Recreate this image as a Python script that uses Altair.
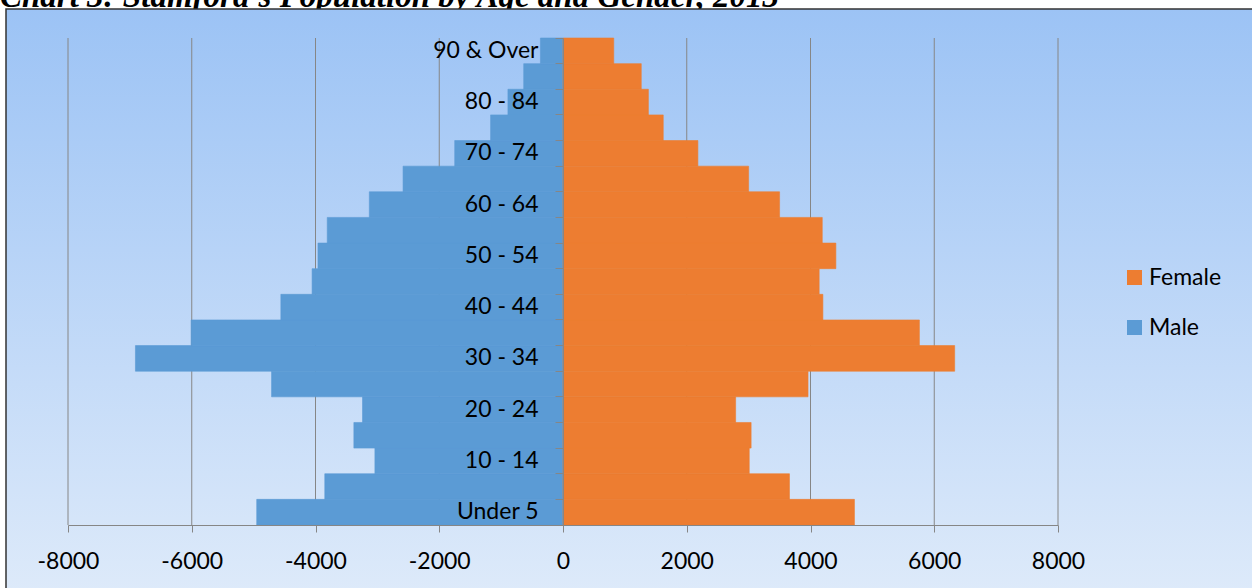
import json

import altair as alt
import pandas as pd

# Stamford population by five-year age group, 2013
AGE_GROUPS = [
    "Under 5", "5 - 9", "10 - 14", "15 - 19", "20 - 24", "25 - 29",
    "30 - 34", "35 - 39", "40 - 44", "45 - 49", "50 - 54", "55 - 59",
    "60 - 64", "65 - 69", "70 - 74", "75 - 79", "80 - 84", "85 - 89",
    "90 & Over",
]
MALE = [4950, 3850, 3040, 3380, 3240, 4710, 6910, 6010, 4560, 4055,
        3960, 3810, 3130, 2585, 1750, 1170, 890, 635, 365]
FEMALE = [4710, 3660, 3010, 3040, 2790, 3960, 6330, 5760, 4200, 4140,
          4410, 4190, 3500, 3000, 2180, 1620, 1380, 1265, 820]

GENDERS = ["Female", "Male"]
GENDER_COLORS = ["#ED7D31", "#5B9BD5"]
X_TICKS = [-8000, -6000, -4000, -2000, 0, 2000, 4000, 6000, 8000]
TITLE = "Chart 3: Stamford's Population by Age and Gender, 2013"

rows = []
for age, m, f in zip(AGE_GROUPS, MALE, FEMALE):
    rows.append({"age": age, "gender": "Male", "population": -m})
    rows.append({"age": age, "gender": "Female", "population": f})
pop = pd.DataFrame(rows)

# plot area and the margin around it
W, H = 990, 487
PAD = {"left": 68, "top": 38, "right": 194, "bottom": 63}

GRID = "#868686"
LABEL_FONT = "Lato"
LABEL_SIZE = 23

x_scale = alt.Scale(domain=[X_TICKS[0], X_TICKS[-1]], nice=False)
x_axis = alt.Axis(
    title=None, values=X_TICKS, grid=False, domainColor=GRID, domainWidth=1,
    tickColor=GRID, tickSize=7, labelFont=LABEL_FONT, labelFontSize=LABEL_SIZE,
    labelColor="black", labelPadding=18, labelFlush=False, labelOverlap=False,
    labelExpr="'' + datum.value", zindex=1,
)

shown = json.dumps(AGE_GROUPS[::2])
y_axis = alt.Axis(
    title=None, orient="left", offset=-W / 2, grid=False, domainColor=GRID,
    domainWidth=1, tickColor=GRID, tickSize=8, bandPosition=0,
    labelFont=LABEL_FONT, labelFontSize=LABEL_SIZE, labelColor="black",
    labelPadding=17, labelAlign="right", labelBaseline="middle",
    labelOverlap=False,
    labelExpr=f"indexof({shown}, datum.value) >= 0 ? datum.value : ''",
    zindex=1,
)

# document caption sitting above the chart frame (the frame overlaps it)
title = alt.Chart(alt.Data(values=[{"label": TITLE}])).mark_text(
    font="Liberation Serif", fontSize=33, fontWeight="bold", fontStyle="italic",
    align="left", baseline="alphabetic", color="black",
).encode(text="label:N", x=alt.value(-68), y=alt.value(-31))

# gradient panel behind the plot
panel = alt.Chart(alt.Data(values=[{}])).mark_rect(
    fill=alt.Gradient(
        gradient="linear",
        stops=[alt.GradientStop(color="#9CC3F5", offset=0),
               alt.GradientStop(color="#DFEBFA", offset=1)],
        x1=0, y1=0, x2=0, y2=1,
    ),
    stroke="#333333", strokeWidth=1.5,
).encode(
    x=alt.value(-62), x2=alt.value(W + PAD["right"] + 20),
    y=alt.value(-29), y2=alt.value(H + PAD["bottom"] + 20),
)

grid = alt.Chart(pd.DataFrame({"tick": X_TICKS})).mark_rule(
    color=GRID, strokeWidth=1
).encode(x=alt.X("tick:Q", scale=x_scale, axis=x_axis))

color_scale = alt.Scale(domain=GENDERS, range=GENDER_COLORS)
bars = alt.Chart(pop).mark_bar(strokeWidth=0.6).encode(
    x=alt.X("population:Q", scale=x_scale, stack=None, axis=x_axis),
    y=alt.Y("age:N", sort=list(reversed(AGE_GROUPS)),
            scale=alt.Scale(paddingInner=0, paddingOuter=0), axis=y_axis),
    color=alt.Color(
        "gender:N", scale=color_scale,
        legend=alt.Legend(
            title=None, orient="none", legendX=1055, legendY=228,
            symbolType="square", symbolSize=225, symbolStrokeWidth=0,
            labelFont=LABEL_FONT, labelFontSize=LABEL_SIZE, labelColor="black",
            labelOffset=3, rowPadding=26, padding=0,
        ),
    ),
    stroke=alt.Stroke("gender:N", scale=color_scale, legend=None),
)

chart = (
    alt.layer(title, panel, grid, bars)
    .properties(width=W, height=H, padding=PAD,
                autosize=alt.AutoSizeParams(type="none"))
    .configure(background="white")
    .configure_view(strokeWidth=0)
)

chart.save("out.html", embed_options={"renderer": "svg", "actions": False})
